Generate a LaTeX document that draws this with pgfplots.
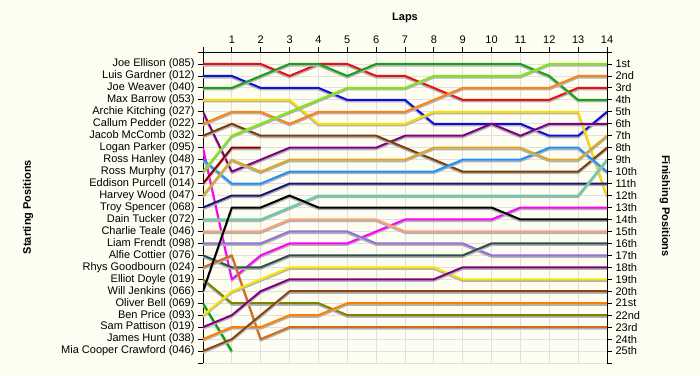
\documentclass[border=0pt]{standalone}
\usepackage{fontspec}
\setmainfont{Liberation Sans}
\usepackage{pgfplots}
\pgfplotsset{compat=1.18}
\definecolor{bgc}{RGB}{254,253,242}
\definecolor{cEllison}{RGB}{232,16,16}
\definecolor{cGardner}{RGB}{16,16,220}
\definecolor{cWeaver}{RGB}{24,160,24}
\definecolor{cBarrow}{RGB}{250,222,0}
\definecolor{cKitching}{RGB}{128,0,128}
\definecolor{cPedder}{RGB}{255,130,20}
\definecolor{cMcComb}{RGB}{122,64,10}
\definecolor{cParker}{RGB}{255,0,255}
\definecolor{cHanley}{RGB}{30,144,255}
\definecolor{cMurphy}{RGB}{128,232,16}
\definecolor{cPurcell}{RGB}{139,0,0}
\definecolor{cWood}{RGB}{218,168,36}
\definecolor{cSpencer}{RGB}{25,25,112}
\definecolor{cTucker}{RGB}{102,205,170}
\definecolor{cTeale}{RGB}{255,160,122}
\definecolor{cFrendt}{RGB}{147,112,219}
\definecolor{cCottier}{RGB}{47,79,79}
\definecolor{cGoodbourn}{RGB}{210,105,30}
\definecolor{cDoyle}{RGB}{128,128,0}
\definecolor{cJenkins}{RGB}{0,0,0}
\definecolor{cBell}{RGB}{0,160,0}
\definecolor{cPrice}{RGB}{248,230,0}
\definecolor{cPattison}{RGB}{128,0,128}
\definecolor{cHunt}{RGB}{255,128,0}
\definecolor{cCrawford}{RGB}{139,69,19}
\pgfplotsset{
  shadowed/.style={preaction={draw=black!30, line width=2pt, transform canvas={yshift=-1.6pt}}},
  every axis plot/.append style={line width=2pt, no marks, line join=round, shadowed},
  common/.style={
    at={(0,0)}, anchor=south west,
    width=404pt, height=311pt, scale only axis,
    xmin=0, xmax=14, ymin=0, ymax=26, y dir=reverse,
    tick align=outside, major tick length=5pt,
    tick style={black, line width=0.8pt},
    axis line style={line width=0.9pt},
    tick label style={font=\fontsize{11}{13}\selectfont},
  }
}
\begin{document}
\begin{tikzpicture}
\fill[bgc] (-203pt,-12pt) rectangle (497pt,363pt);
\path[use as bounding box] (-203pt,-12pt) rectangle (497pt,363pt);
\begin{axis}[common,
  axis x line*=top, axis y line*=left,
  xtick={0,...,14}, xticklabels={,1,2,3,4,5,6,7,8,9,10,11,12,13,14},
  ytick={0,...,26},
  yticklabels={,Joe Ellison (085),Luis Gardner (012),Joe Weaver (040),Max Barrow (053),Archie Kitching (027),Callum Pedder (022),Jacob McComb (032),Logan Parker (095),Ross Hanley (048),Ross Murphy (017),Eddison Purcell (014),Harvey Wood (047),Troy Spencer (068),Dain Tucker (072),Charlie Teale (046),Liam Frendt (098),Alfie Cottier (076),Rhys Goodbourn (024),Elliot Doyle (019),Will Jenkins (066),Oliver Bell (069),Ben Price (093),Sam Pattison (019),James Hunt (038),Mia Cooper Crawford (046),},
  grid=major, major grid style={draw=black!12, line width=0.8pt},
]
\addplot[cEllison] coordinates {(0,1)(1,1)(2,1)(3,2)(4,1)(5,1)(6,2)(7,2)(8,3)(9,4)(10,4)(11,4)(12,4)(13,3)(14,3)};
\addplot[cGardner] coordinates {(0,2)(1,2)(2,3)(3,3)(4,3)(5,4)(6,4)(7,4)(8,6)(9,6)(10,6)(11,6)(12,7)(13,7)(14,5)};
\addplot[cWeaver] coordinates {(0,3)(1,3)(2,2)(3,1)(4,1)(5,2)(6,1)(7,1)(8,1)(9,1)(10,1)(11,1)(12,2)(13,4)(14,4)};
\addplot[cBarrow] coordinates {(0,4)(1,4)(2,4)(3,4)(4,6)(5,6)(6,6)(7,6)(8,5)(9,5)(10,5)(11,5)(12,5)(13,5)(14,12)};
\addplot[cKitching] coordinates {(0,5)(1,10)(2,9)(3,8)(4,8)(5,8)(6,8)(7,7)(8,7)(9,7)(10,6)(11,7)(12,6)(13,6)(14,6)};
\addplot[cPedder] coordinates {(0,6)(1,5)(2,5)(3,6)(4,5)(5,5)(6,5)(7,5)(8,4)(9,3)(10,3)(11,3)(12,3)(13,2)(14,2)};
\addplot[cMcComb] coordinates {(0,7)(1,6)(2,7)(3,7)(4,7)(5,7)(6,7)(7,8)(8,9)(9,10)(10,10)(11,10)(12,10)(13,10)(14,8)};
\addplot[cParker] coordinates {(0,8)(1,19)(2,17)(3,16)(4,16)(5,16)(6,15)(7,14)(8,14)(9,14)(10,14)(11,13)(12,13)(13,13)(14,13)};
\addplot[cHanley] coordinates {(0,9)(1,11)(2,11)(3,10)(4,10)(5,10)(6,10)(7,10)(8,10)(9,9)(10,9)(11,9)(12,8)(13,8)(14,10)};
\addplot[cMurphy] coordinates {(0,10)(1,7)(2,6)(3,5)(4,4)(5,3)(6,3)(7,3)(8,2)(9,2)(10,2)(11,2)(12,1)(13,1)(14,1)};
\addplot[cPurcell] coordinates {(0,11)(1,8)(2,8)};
\addplot[cWood] coordinates {(0,12)(1,9)(2,10)(3,9)(4,9)(5,9)(6,9)(7,9)(8,8)(9,8)(10,8)(11,8)(12,9)(13,9)(14,7)};
\addplot[cSpencer] coordinates {(0,13)(1,12)(2,12)(3,11)(4,11)(5,11)(6,11)(7,11)(8,11)(9,11)(10,11)(11,11)(12,11)(13,11)(14,11)};
\addplot[cTucker] coordinates {(0,14)(1,14)(2,14)(3,13)(4,12)(5,12)(6,12)(7,12)(8,12)(9,12)(10,12)(11,12)(12,12)(13,12)(14,9)};
\addplot[cTeale] coordinates {(0,15)(1,15)(2,15)(3,14)(4,14)(5,14)(6,14)(7,15)(8,15)(9,15)(10,15)(11,15)(12,15)(13,15)(14,15)};
\addplot[cFrendt] coordinates {(0,16)(1,16)(2,16)(3,15)(4,15)(5,15)(6,16)(7,16)(8,16)(9,16)(10,17)(11,17)(12,17)(13,17)(14,17)};
\addplot[cCottier] coordinates {(0,17)(1,18)(2,18)(3,17)(4,17)(5,17)(6,17)(7,17)(8,17)(9,17)(10,16)(11,16)(12,16)(13,16)(14,16)};
\addplot[cGoodbourn] coordinates {(0,18)(1,17)(2,24)(3,23)(4,23)(5,23)(6,23)(7,23)(8,23)(9,23)(10,23)(11,23)(12,23)(13,23)(14,23)};
\addplot[cDoyle] coordinates {(0,19)(1,21)(2,21)(3,21)(4,21)(5,22)(6,22)(7,22)(8,22)(9,22)(10,22)(11,22)(12,22)(13,22)(14,22)};
\addplot[cJenkins] coordinates {(0,20)(1,13)(2,13)(3,12)(4,13)(5,13)(6,13)(7,13)(8,13)(9,13)(10,13)(11,14)(12,14)(13,14)(14,14)};
\addplot[cBell] coordinates {(0,21)(1,25)};
\addplot[cPrice] coordinates {(0,22)(1,20)(2,19)(3,18)(4,18)(5,18)(6,18)(7,18)(8,18)(9,19)(10,19)(11,19)(12,19)(13,19)(14,19)};
\addplot[cPattison] coordinates {(0,23)(1,22)(2,20)(3,19)(4,19)(5,19)(6,19)(7,19)(8,19)(9,18)(10,18)(11,18)(12,18)(13,18)(14,18)};
\addplot[cHunt] coordinates {(0,24)(1,23)(2,23)(3,22)(4,22)(5,21)(6,21)(7,21)(8,21)(9,21)(10,21)(11,21)(12,21)(13,21)(14,21)};
\addplot[cCrawford] coordinates {(0,25)(1,24)(2,22)(3,20)(4,20)(5,20)(6,20)(7,20)(8,20)(9,20)(10,20)(11,20)(12,20)(13,20)(14,20)};
\end{axis}
\begin{axis}[common,
  axis x line=none, axis y line*=right,
  ytick={0,...,26},
  yticklabels={,1st,2nd,3rd,4th,5th,6th,7th,8th,9th,10th,11th,12th,13th,14th,15th,16th,17th,18th,19th,20th,21st,22nd,23rd,24th,25th,},
]
\end{axis}
\node[font=\bfseries\fontsize{11}{13}\selectfont] at (202pt,345pt) {Laps};
\node[font=\bfseries\fontsize{11}{13}\selectfont, rotate=90] at (-175pt,156pt) {Starting Positions};
\node[font=\bfseries\fontsize{11}{13}\selectfont, rotate=-90] at (462pt,157pt) {Finishing Positions};
\end{tikzpicture}
\end{document}
